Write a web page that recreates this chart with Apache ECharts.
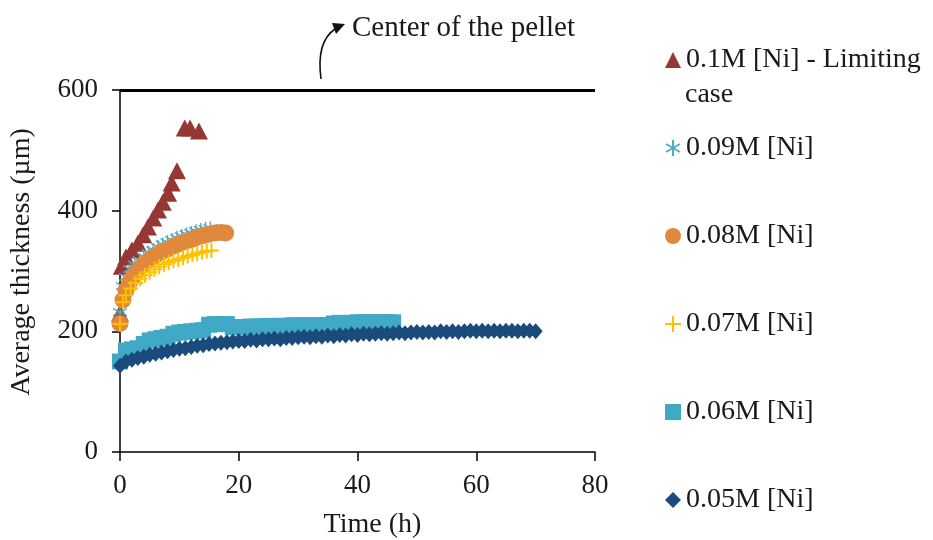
<!DOCTYPE html>
<html><head><meta charset="utf-8">
<script src="https://cdn.jsdelivr.net/npm/echarts@6/dist/echarts.min.js"></script>
<style>html,body{margin:0;padding:0;background:#fff}#c{width:933px;height:540px}</style>
</head><body><div id="c"></div>
<script>
var seriesNames = ['0.1M [Ni] - Limiting case', '0.09M [Ni]', '0.08M [Ni]', '0.07M [Ni]', '0.06M [Ni]', '0.05M [Ni]'];
var xTicks = [0, 20, 40, 60, 80];
var yTicks = [0, 200, 400, 600];

var triT = [0, 0.3, 1, 2, 3, 3.9, 4.7, 5.6, 6.4, 7.2, 8.1, 8.7, 9.6, 10.9, 11.8, 13.3];
var triV = [230, 308, 323, 335, 346, 360, 373, 388, 401, 414, 429, 446, 466, 537, 537, 532];

var starT = [0, 0.5, 1, 1.7, 2.5, 3.3, 4, 4.8, 5.6, 6.4, 7.2, 8, 8.8, 9.6, 10.4, 11.2, 12, 12.8, 13.6, 14.4, 15.2];
var starV = [232, 275, 290, 303, 311, 318, 324, 330, 335, 340, 344, 348, 351, 355, 358, 361, 363, 366, 368, 370, 371];

var circT = [0, 0.5, 1, 1.6, 2.3, 3, 4, 5, 6, 7, 8, 9, 10, 11, 12, 13, 14, 15, 16, 17, 17.8];
var circV = [213, 252, 268, 281, 292, 301, 311, 319, 326, 332, 336, 341, 345, 349, 352, 356, 359, 361, 363, 364, 363];

var plusT = [0, 0.5, 1, 1.8, 2.6, 3.4, 4.2, 5, 5.8, 6.6, 7.4, 8.2, 9, 9.8, 10.6, 11.4, 12.2, 13, 13.8, 14.6, 15.4];
var plusV = [212, 248, 260, 271, 280, 287, 293, 298, 303, 307, 311, 314, 317, 319, 322, 325, 327, 329, 331, 333, 334];

var sqT = [0, 1, 2, 3, 4, 5, 6, 7, 8, 9, 10, 11, 12, 13, 14, 15, 16, 17, 18, 19, 20, 21, 22, 23, 24, 25, 26, 27, 28, 29, 30, 31, 32, 33, 34, 35, 36, 37, 38, 39, 40, 41, 42, 43, 44, 45, 46];
var sqV = [150, 168, 170, 172, 179, 185, 187, 189, 191, 196, 198, 199, 200, 201, 202, 211, 212, 212, 212, 207, 207, 207, 208, 208, 208, 209, 209, 209, 209, 210, 210, 210, 210, 210, 210, 210, 213, 214, 214, 212, 215, 215, 215, 215, 215, 215, 215];

var diaT = [0, 1, 2, 3, 4, 5, 6, 7, 8, 9, 10, 11, 12, 13, 14, 15, 16, 17, 18, 19, 20, 21, 22, 23, 24, 25, 26, 27, 28, 29, 30, 31, 32, 33, 34, 35, 36, 37, 38, 39, 40, 41, 42, 43, 44, 45, 46, 47, 48, 49, 50, 51, 52, 53, 54, 55, 56, 57, 58, 59, 60, 61, 62, 63, 64, 65, 66, 67, 68, 69, 70];
var diaV = [143, 150, 153, 156, 158, 161, 163, 165, 167, 169, 171, 172, 174, 176, 177, 179, 180, 181, 182, 183, 184, 184, 186, 185, 187, 187, 188, 187, 189, 189, 190, 191, 190, 192, 191, 193, 192, 194, 193, 195, 194, 196, 195, 196, 197, 196, 197, 198, 197, 198, 199, 198, 199, 198, 200, 199, 200, 199, 200, 201, 200, 201, 200, 201, 200, 201, 201, 200, 201, 201, 200];

function pairs(t, v) { return t.map(function (x, i) { return [x, v[i]]; }); }

var FONT = 'Liberation Serif';
var TXT = '#1a1a1a';
var starPath = 'path://M0,-10 L0,10 M-8.66,-5 L8.66,5 M-8.66,5 L8.66,-5';
var plusPath = 'path://M0,-10 L0,10 M-10,0 L10,0';

var chart = echarts.init(document.getElementById('c'));
chart.setOption({
  animation: false,
  backgroundColor: '#fff',
  grid: { left: 120, right: 338, top: 90, bottom: 88, containLabel: false, outerBoundsMode: 'none' },
  xAxis: {
    type: 'value', min: 0, max: 80, interval: 20,
    name: 'Time (h)', nameLocation: 'middle', nameGap: 59,
    nameTextStyle: { fontFamily: FONT, fontSize: 28, color: TXT, padding: [0, 0, 0, 30] },
    axisLine: { onZero: false, lineStyle: { color: '#000', width: 1.5 } },
    axisTick: { show: true, length: 9, lineStyle: { color: '#000', width: 1.5 } },
    axisLabel: { fontFamily: FONT, fontSize: 27, color: TXT, margin: 20,
      formatter: function (v) { return xTicks.indexOf(v) >= 0 ? String(v) : ''; } },
    splitLine: { show: false }
  },
  yAxis: {
    type: 'value', min: 0, max: 600, interval: 200,
    name: 'Average thickness (µm)', nameLocation: 'middle', nameGap: 84, nameRotate: 90,
    nameTextStyle: { fontFamily: FONT, fontSize: 28, color: TXT, padding: [0, 0, 0, 18] },
    axisLine: { onZero: false, lineStyle: { color: '#000', width: 1.5 } },
    axisTick: { show: true, length: 8, lineStyle: { color: '#000', width: 1.5 } },
    axisLabel: { fontFamily: FONT, fontSize: 27, color: TXT, margin: 22,
      formatter: function (v) { return yTicks.indexOf(v) >= 0 ? String(v) : ''; } },
    splitLine: { show: false }
  },
  legend: {
    orient: 'vertical', left: 664, top: 46, itemGap: 60, padding: 0,
    itemWidth: 16, itemHeight: 16,
    textStyle: { fontFamily: FONT, fontSize: 28, color: TXT, lineHeight: 28 },
    formatter: function (n) { return n === seriesNames[0] ? '0.1M [Ni] - Limiting' : n; },
    data: seriesNames.slice()
  },
  graphic: [
    { type: 'text', left: 685, top: 81, style: { text: 'case', fontFamily: FONT, fontSize: 28, fill: TXT } },
    { type: 'text', left: 352, top: 14, style: { text: 'Center of the pellet', fontFamily: FONT, fontSize: 29, fill: TXT } },
    { type: 'bezierCurve', shape: { x1: 321, y1: 79, x2: 335, y2: 29, cpx1: 316, cpy1: 42 },
      style: { stroke: '#111', lineWidth: 1.6, fill: null } },
    { type: 'polygon', shape: { points: [[345, 24], [332, 23], [336, 34]] }, style: { fill: '#111' } }
  ],
  series: [
    { name: seriesNames[0], type: 'scatter', symbol: 'triangle', symbolSize: [18, 17],
      itemStyle: { color: '#953735', opacity: 1 }, data: pairs(triT, triV),
      markLine: { silent: true, symbol: 'none', label: { show: false },
        lineStyle: { color: '#000', width: 3, type: 'solid' }, data: [{ yAxis: 600 }] } },
    { name: seriesNames[1], type: 'scatter', symbol: starPath, symbolSize: 14,
      itemStyle: { color: 'rgba(0,0,0,0)', borderColor: '#4BACC6', borderWidth: 1.4, opacity: 1 },
      data: pairs(starT, starV) },
    { name: seriesNames[2], type: 'scatter', symbol: 'circle', symbolSize: 17,
      itemStyle: { color: '#E0893D', opacity: 1 }, data: pairs(circT, circV) },
    { name: seriesNames[3], type: 'scatter', symbol: plusPath, symbolSize: 15,
      itemStyle: { color: 'rgba(0,0,0,0)', borderColor: '#FFC000', borderWidth: 2, opacity: 1 },
      data: pairs(plusT, plusV) },
    { name: seriesNames[4], type: 'scatter', symbol: 'rect', symbolSize: 16,
      itemStyle: { color: '#40AAC6', opacity: 1 }, data: pairs(sqT, sqV) },
    { name: seriesNames[5], type: 'scatter', symbol: 'diamond', symbolSize: [14, 16],
      itemStyle: { color: '#1B4A7C', opacity: 1 }, data: pairs(diaT, diaV) }
  ]
});
</script></body></html>
